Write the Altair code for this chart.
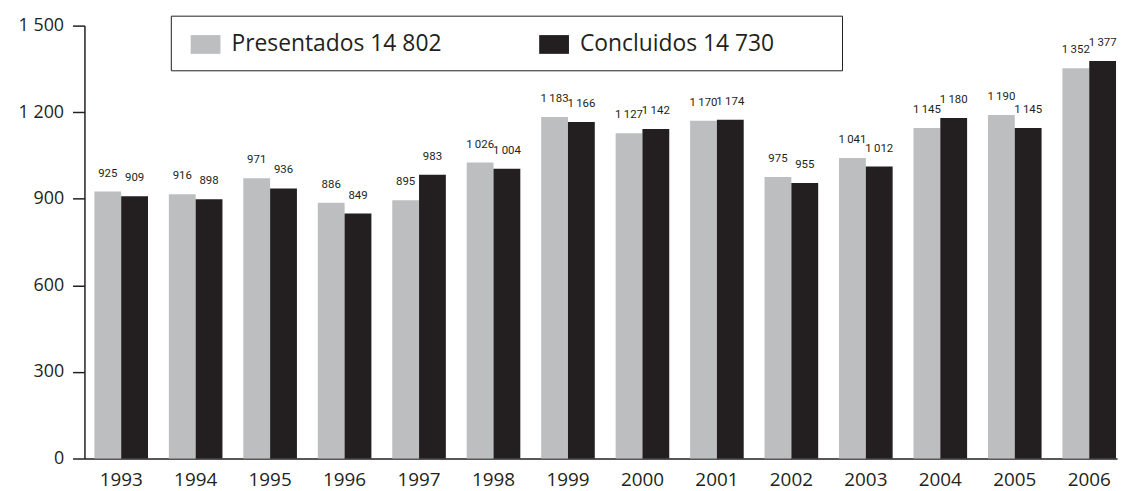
import altair as alt
import pandas as pd

years = ["1993", "1994", "1995", "1996", "1997", "1998", "1999",
         "2000", "2001", "2002", "2003", "2004", "2005", "2006"]
presentados = [925, 916, 971, 886, 895, 1026, 1183, 1127, 1170, 975, 1041, 1145, 1190, 1352]
concluidos = [909, 898, 936, 849, 983, 1004, 1166, 1142, 1174, 955, 1012, 1180, 1145, 1377]
y_ticks = [0, 300, 600, 900, 1200, 1500]


def fmt(v, sep=" "):
    return f"{v:,}".replace(",", sep)


s1 = f"Presentados {fmt(sum(presentados))}"
s2 = f"Concluidos {fmt(sum(concluidos))}"
series = [s1, s2]

rows = []
for i, y in enumerate(years):
    rows.append({"year": y, "serie": s1, "value": presentados[i],
                 "label": fmt(presentados[i], "\u2009")})
    rows.append({"year": y, "serie": s2, "value": concluidos[i],
                 "label": fmt(concluidos[i], "\u2009")})
df = pd.DataFrame(rows)

INK = "#231f20"
GRAY = "#bcbec0"

base = alt.Chart(df).encode(
    x=alt.X(
        "year:N",
        sort=years,
        scale=alt.Scale(paddingInner=0.28, paddingOuter=0.0733, align=0.91),
        axis=alt.Axis(
            title=None, ticks=False, labelAngle=0, labelFont="Open Sans",
            labelFontSize=19, labelColor=INK, domainColor=INK, domainWidth=1.5,
            labelPadding=12,
        ),
    ),
    xOffset=alt.XOffset("serie:N", sort=series,
                        scale=alt.Scale(paddingInner=0, paddingOuter=0)),
)

bars = base.mark_bar().encode(
    y=alt.Y(
        "value:Q",
        scale=alt.Scale(domain=[0, 1500], nice=False),
        axis=alt.Axis(
            title=None, values=y_ticks, grid=False,
            labelExpr="replace(format(datum.value, ','), ',', ' ')",
            tickSize=12, tickWidth=1.5, tickColor=INK, domainColor=INK,
            domainWidth=1.5, labelPadding=9, labelFont="Open Sans",
            labelFontSize=18, labelColor=INK,
        ),
    ),
    color=alt.Color(
        "serie:N",
        sort=series,
        scale=alt.Scale(domain=series, range=[GRAY, INK]),
        legend=alt.Legend(
            title=".", titleColor="white", titleOrient="right",
            titleFontSize=6, titlePadding=52,
            orient="none", legendX=87, legendY=-10,
            direction="horizontal",
            symbolType="M-1,-0.63H1V0.63H-1Z", symbolSize=900,
            symbolStrokeWidth=0, symbolOpacity=1,
            labelFont="Open Sans", labelFontSize=23, labelColor=INK,
            labelOffset=11, columnPadding=92, padding=14, symbolOffset=6,
            strokeColor=INK, fillColor="white",
            labelLimit=700,
        ),
    ),
)

text = base.mark_text(
    dy=-15, baseline="alphabetic",
    font="Roboto",
    fontSize=11.5, color=INK,
).encode(
    y=alt.Y("value:Q"),
    text="label:N",
)

chart = alt.layer(bars, text).properties(
    width=1040,
    height=436,
    padding={"left": 77, "top": 16, "right": 3, "bottom": 31},
    autosize=alt.AutoSizeParams(type="none"),
).configure_view(stroke=None)

chart.save("out.html", embed_options={"renderer": "svg", "actions": False})
